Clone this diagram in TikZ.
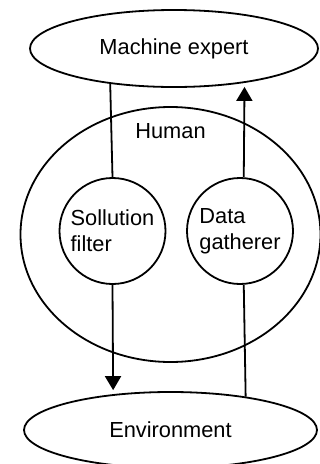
\documentclass[tikz,border=0pt]{standalone}
\usepackage{fontspec}
\setmainfont{Liberation Sans}
\usetikzlibrary{arrows.meta,shapes.geometric}

\begin{document}
\begin{tikzpicture}[x=1pt, y=1pt, line width=1.8pt,
  oval/.style={draw, ellipse, inner sep=0pt},
  unit/.style={draw, circle, inner sep=0pt, minimum size=106pt, align=left},
  feed/.style={-{Triangle[length=14pt,width=16pt]}, shorten >=4pt}]
\useasboundingbox (0,0) rectangle (320,-464);
\fontsize{21.8}{26}\selectfont

\node[oval, minimum width=288pt, minimum height=77pt] (machine) at (174,-48.5) {Machine expert};
\node[oval, minimum width=300pt, minimum height=255pt] (human) at (170.5,-234.5) {};
\node (humanlabel) at (170.5,-131) {Human};

\node[unit] (filter) at (112.5,-231) {Sollution\\filter};
\node[unit] (gatherer) at (240,-231) {Data\\gatherer};

\node[oval, minimum width=293pt, minimum height=76pt] (env) at (170.5,-430) {Environment};

\draw (machine.209.8) -- (filter.north);
\draw[feed] (filter.south) -- (env.148.7);

\draw (env.24.1) -- (gatherer.274);
\draw[feed] (gatherer.86) -- (machine.334.4);

\end{tikzpicture}
\end{document}
